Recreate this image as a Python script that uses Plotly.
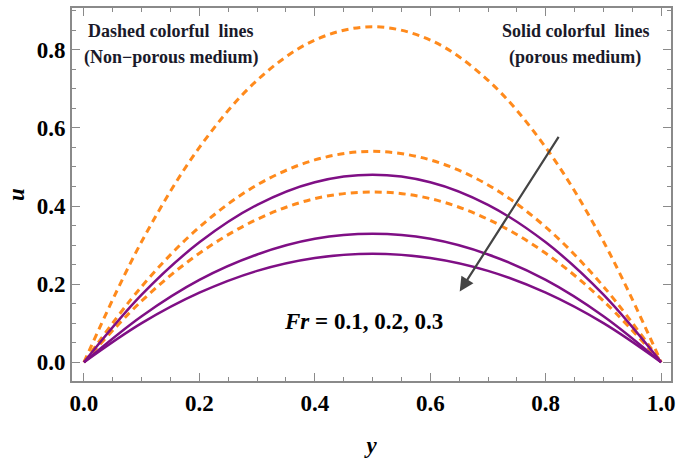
import plotly.graph_objects as go

y_vals = [0.0, 0.1, 0.2, 0.3, 0.4, 0.5, 0.6, 0.7, 0.8, 0.9, 1.0]

# dashed: non-porous medium, Fr = 0.1, 0.2, 0.3
u_np_1 = [0.0, 0.309, 0.550, 0.722, 0.825, 0.859, 0.825, 0.722, 0.550, 0.309, 0.0]
u_np_2 = [0.0, 0.194, 0.346, 0.454, 0.518, 0.540, 0.518, 0.454, 0.346, 0.194, 0.0]
u_np_3 = [0.0, 0.157, 0.279, 0.366, 0.419, 0.436, 0.419, 0.366, 0.279, 0.157, 0.0]

# solid: porous medium, Fr = 0.1, 0.2, 0.3
u_p_1 = [0.0, 0.173, 0.307, 0.403, 0.461, 0.480, 0.461, 0.403, 0.307, 0.173, 0.0]
u_p_2 = [0.0, 0.118, 0.211, 0.276, 0.316, 0.329, 0.316, 0.276, 0.211, 0.118, 0.0]
u_p_3 = [0.0, 0.100, 0.178, 0.234, 0.267, 0.278, 0.267, 0.234, 0.178, 0.100, 0.0]

x_ticks = [0.0, 0.2, 0.4, 0.6, 0.8, 1.0]
y_ticks = [0.0, 0.2, 0.4, 0.6, 0.8]

ORANGE = "#FF8A1C"
PURPLE = "#7F0F85"
SERIF = "Liberation Serif"

fig = go.Figure()
for u in [u_np_1, u_np_2, u_np_3]:
    fig.add_trace(go.Scatter(x=y_vals, y=u, mode="lines",
                             line=dict(color=ORANGE, width=3, dash="7px,5px", shape="spline"),
                             showlegend=False, hoverinfo="skip"))
for u in [u_p_1, u_p_2, u_p_3]:
    fig.add_trace(go.Scatter(x=y_vals, y=u, mode="lines",
                             line=dict(color=PURPLE, width=2.5, shape="spline"),
                             showlegend=False, hoverinfo="skip"))

axis_common = dict(
    showline=True, linecolor="#8a8a8a", linewidth=2, mirror="ticks",
    ticks="inside", ticklen=8, tickwidth=1.2, tickcolor="#8a8a8a",
    showgrid=False, zeroline=False,
    tickfont=dict(family=SERIF, size=23, color="black", weight="bold"),
    minor=dict(ticks="inside", ticklen=4, tickcolor="#8a8a8a", dtick=0.05, showgrid=False),
)

fig.update_xaxes(range=[-0.0207, 1.017], tickvals=x_ticks, ticktext=[f"{v:.1f}" for v in x_ticks],
                 title=dict(text="<b><i>y</i></b>", font=dict(family=SERIF, size=23, color="black"), standoff=22),
                 **axis_common)
fig.update_yaxes(range=[-0.048, 0.907], tickvals=y_ticks, ticktext=[f"{v:.1f}" for v in y_ticks],
                 title=dict(text="<b><i>u</i></b>", font=dict(family=SERIF, size=23, color="black"), standoff=6),
                 **axis_common)

fig.add_annotation(x=0.651, y=0.181, ax=0.824, ay=0.581, xref="x", yref="y", axref="x", ayref="y",
                   showarrow=True, arrowhead=2, arrowsize=1.3, arrowwidth=2.2, arrowcolor="#444444", text="")
fig.add_annotation(x=0.484, y=0.104, xref="x", yref="y", showarrow=False,
                   text="<b><i>Fr</i> = 0.1, 0.2, 0.3</b>",
                   font=dict(family=SERIF, size=23, color="black"))

corner_font = dict(family=SERIF, size=18, color="#1a1a2a")
fig.add_annotation(x=0.150, y=0.848, xref="x", yref="y", showarrow=False,
                   text="<b>Dashed colorful  lines</b>", font=corner_font)
fig.add_annotation(x=0.150, y=0.780, xref="x", yref="y", showarrow=False,
                   text="<b>(Non\u2212porous medium)</b>", font=corner_font)
fig.add_annotation(x=0.853, y=0.848, xref="x", yref="y", showarrow=False,
                   text="<b>Solid colorful  lines</b>", font=corner_font)
fig.add_annotation(x=0.850, y=0.780, xref="x", yref="y", showarrow=False,
                   text="<b>(porous medium)</b>", font=corner_font)

fig.update_layout(width=680, height=459, margin=dict(l=72, r=5, t=8, b=76),
                  paper_bgcolor="white", plot_bgcolor="white")
fig.write_html("out.html")
